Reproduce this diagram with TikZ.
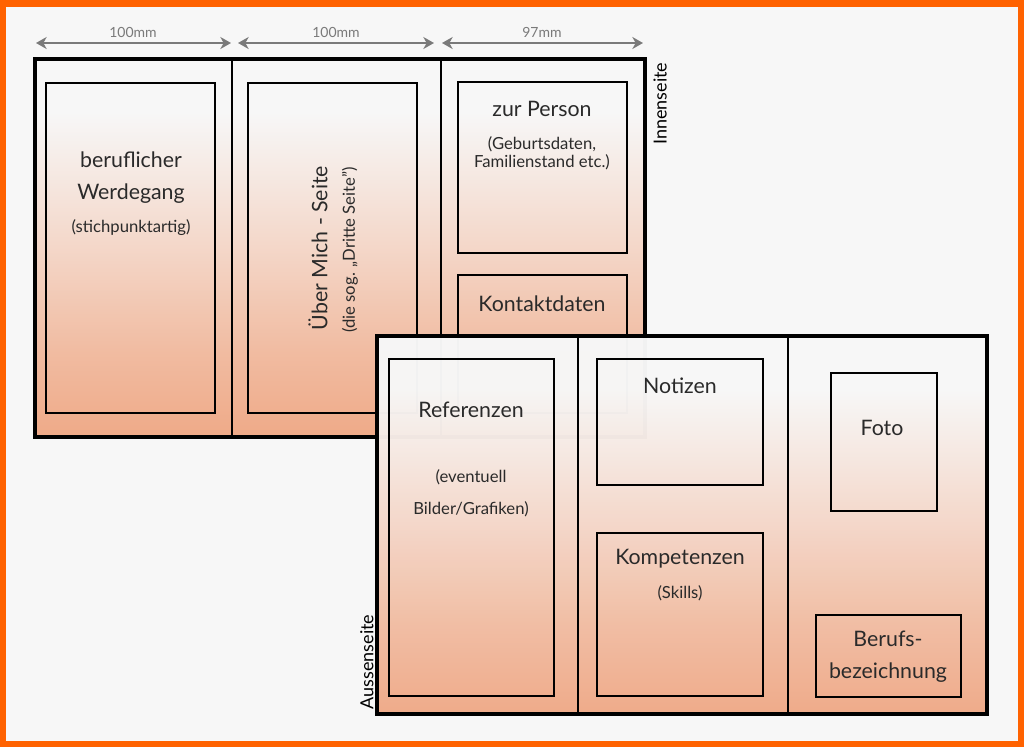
\documentclass[tikz,border=0pt]{standalone}
\usepackage{fontspec}
\setmainfont{Lato}
\usetikzlibrary{arrows.meta}

\definecolor{frameorange}{HTML}{FF6200}
\definecolor{paper}{HTML}{F7F7F7}
\definecolor{peach}{HTML}{EFAA88}
\definecolor{dimgray}{HTML}{7A7A7A}
\definecolor{ink}{HTML}{2A2A2A}

% folder gradient: white at the top, peach at the bottom
\pgfdeclareverticalshading{foldershade}{100bp}{%
	color(0bp)=(peach); color(25bp)=(peach); color(36bp)=(peach!78!paper);
	color(50bp)=(peach!42!paper); color(60bp)=(peach!18!paper);
	color(68bp)=(paper); color(100bp)=(paper)}

\tikzset{
	panel/.style={draw=black, line width=2.4pt},
	fold/.style={draw=black, line width=1.1pt},
	box/.style={draw=black, line width=2.2pt},
	panelshade/.style={shading=foldershade},
	big/.style={font=\fontsize{16}{24}\selectfont, text=ink, align=center},
	small/.style={font=\fontsize{12.5}{13.5}\selectfont, text=ink, align=center},
	dimline/.style={draw=dimgray, line width=1.5pt,
		{Stealth[length=8pt,width=9pt,inset=2.5pt]}-{Stealth[length=8pt,width=9pt,inset=2.5pt]}},
	dimlabel/.style={font=\fontsize{10.5}{12}\selectfont, text=dimgray},
	sidelabel/.style={font=\fontsize{13.5}{15}\selectfont, text=black, rotate=90}
}

\begin{document}
\begin{tikzpicture}[x=0.75pt,y=-0.75pt]
	% frame and paper
	\fill[frameorange] (0,0) rectangle (1024,747);
	\fill[paper] (6,7) rectangle (1018,741);
	%
	% measures
	\coordinate (m1a) at (36,43);  \coordinate (m1b) at (231,43);
	\coordinate (m2a) at (238,43); \coordinate (m2b) at (434,43);
	\coordinate (m3a) at (442,43); \coordinate (m3b) at (643,43);
	\draw[dimline] (m1a) -- (m1b);
	\draw[dimline] (m2a) -- (m2b);
	\draw[dimline] (m3a) -- (m3b);
	\node[dimlabel] (l1) at (133,32) {100mm};
	\node[dimlabel] (l2) at (336,32) {100mm};
	\node[dimlabel] (l3) at (542,32) {97mm};
	%
	% inside (Innenseite)
	\shade[panelshade] (35,59) rectangle (645,437);
	\draw[fold] (232,59) -- (232,437);
	\draw[fold] (441,59) -- (441,437);
	\draw[box] (46,83) rectangle (215,413);
	\draw[box] (248,83) rectangle (417,413);
	\draw[box] (458,82) rectangle (627,253);
	\draw[box] (458,275) rectangle (627,413);
	\draw[panel] (35,59) rectangle (645,437);
	%
	\node[big] (beruf) at (131,160) {beruflicher};
	\node[big] (werde) at (131,194) {Werdegang};
	\node[small] (stich) at (131,228) {(stichpunktartig)};
	\node[big, rotate=90] (uebermich) at (318,248) {Über Mich - Seite};
	\node[small, rotate=90] (dritte) at (350,250) {(die sog. „Dritte Seite")};
	\node[big] (person) at (542,109) {zur Person};
	\node[small] (geburt) at (542,153) {(Geburtsdaten,\\Familienstand etc.)};
	\node[big] (kontakt) at (542,304) {Kontaktdaten};
	\node[sidelabel, anchor=east] (innen) at (660,58) {Innenseite};
	%
	% outside (Aussenseite)
	\shade[panelshade, opacity=0.975] (377,336) rectangle (987,714);
	\draw[fold] (578,336) -- (578,714);
	\draw[fold] (788,336) -- (788,714);
	\draw[box] (389,359) rectangle (554,696);
	\draw[box] (597,359) rectangle (763,485);
	\draw[box] (597,533) rectangle (763,696);
	\draw[box] (831,373) rectangle (937,511);
	\draw[box] (816,615) rectangle (961,697);
	\draw[panel] (377,336) rectangle (987,714);
	%
	\node[big] (refer) at (471,410) {Referenzen};
	\node[small] (eventuell) at (471,477) {(eventuell};
	\node[small] (bilder) at (471,509) {Bilder/Grafiken)};
	\node[big] (notizen) at (680,386) {Notizen};
	\node[big] (kompet) at (680,559) {Kompetenzen};
	\node[small] (skills) at (680,593) {(Skills)};
	\node[big] (foto) at (882,428) {Foto};
	\node[big] (berufsbez) at (888,657) {Berufs-\\bezeichnung};
	\node[sidelabel, anchor=west] (aussen) at (367,714) {Aussenseite};
\end{tikzpicture}
\end{document}
